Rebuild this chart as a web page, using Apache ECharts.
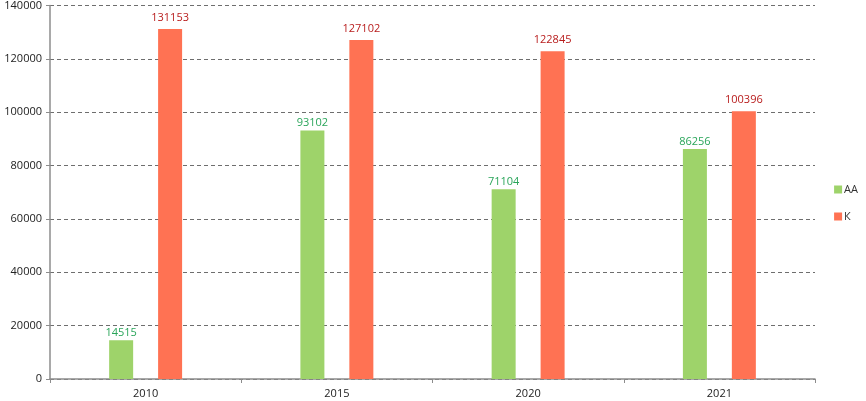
<!DOCTYPE html>
<html>
<head>
<meta charset="utf-8">
<script src="https://cdn.jsdelivr.net/npm/echarts@6/dist/echarts.min.js"></script>
<style>
  html, body { margin: 0; padding: 0; background: #fff; }
  #chart { width: 866px; height: 401px; }
</style>
</head>
<body>
<div id="chart"></div>
<script>
// chart data
const years = ['2010', '2015', '2020', '2021'];
const aaValues = [14515, 93102, 71104, 86256];
const kValues = [131153, 127102, 122845, 100396];
const seriesNames = ['AA', 'К'];

const chart = echarts.init(document.getElementById('chart'));

const option = {
  animation: false,
  textStyle: { fontFamily: 'Open Sans, sans-serif' },
  grid: { left: 50, right: 51, top: 5, bottom: 22 },
  legend: {
    orient: 'vertical',
    right: 3,
    top: 179,
    itemWidth: 8,
    itemHeight: 8,
    itemGap: 16,
    icon: 'rect',
    textStyle: { fontSize: 11, color: '#333', padding: [0, 0, 0, -3] },
    data: seriesNames
  },
  xAxis: {
    type: 'category',
    data: years,
    axisLine: { lineStyle: { color: '#8c8c8c', width: 1.5 } },
    axisTick: { show: true, alignWithLabel: false, length: 4, lineStyle: { color: '#8c8c8c' } },
    axisLabel: { fontSize: 11, color: '#222', margin: 9 }
  },
  yAxis: {
    type: 'value',
    min: 0,
    max: 140000,
    interval: 20000,
    axisLine: { show: true, lineStyle: { color: '#8c8c8c', width: 1.5 } },
    axisTick: { show: true, length: 4, lineStyle: { color: '#8c8c8c' } },
    axisLabel: { fontSize: 11, color: '#222', margin: 8, formatter: v => String(v) },
    splitLine: { lineStyle: { type: [4, 3], color: '#6e6e6e', width: 1 } }
  },
  series: [
    {
      name: seriesNames[0],
      type: 'bar',
      data: aaValues,
      barWidth: 24,
      barGap: '104%',
      itemStyle: { color: '#9ed36a' },
      label: { show: true, position: 'top', color: '#2aa55a', fontSize: 11, distance: 2 }
    },
    {
      name: seriesNames[1],
      type: 'bar',
      data: kValues,
      barWidth: 24,
      itemStyle: { color: '#ff7253' },
      label: { show: true, position: 'top', color: '#b81c1c', fontSize: 11, distance: 6 }
    }
  ]
};

chart.setOption(option);
</script>
</body>
</html>
